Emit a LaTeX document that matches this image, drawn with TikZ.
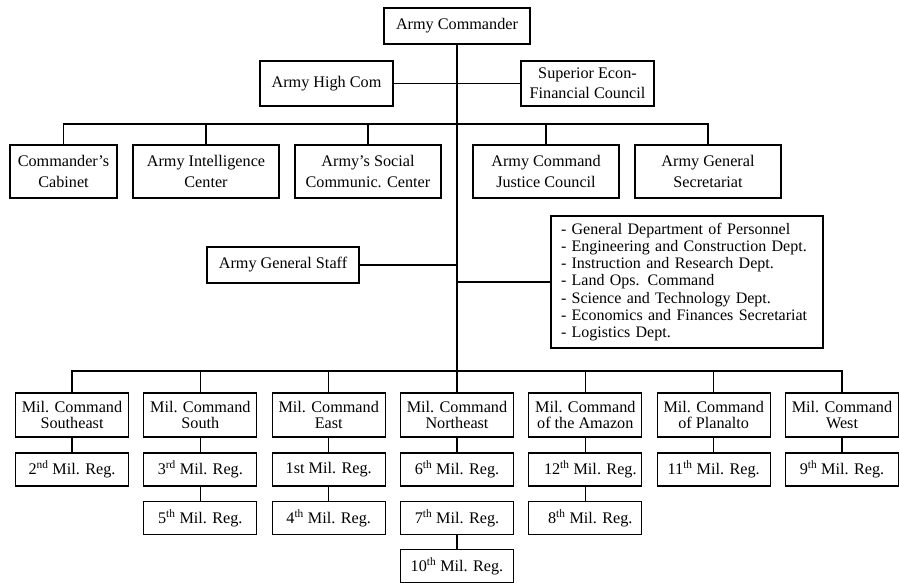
\documentclass[tikz,border=0pt]{standalone}
\usepackage{fontspec}
\setmainfont{Liberation Serif}
\begin{document}
\begin{tikzpicture}[x=1pt,y=-1pt,
  box/.style={draw,line width=1.2pt,align=center,inner sep=0pt},
  toprow/.style={box,minimum width=146pt,minimum height=53pt,font=\fontsize{16.2}{21}\selectfont},
  mid/.style={box,minimum height=45pt,font=\fontsize{16.2}{20}\selectfont},
  cmd/.style={box,minimum width=113pt,minimum height=44pt,font=\fontsize{16.2}{16}\selectfont},
  reg/.style={box,minimum width=113pt,minimum height=33pt,font=\fontsize{16.2}{18}\selectfont},
  link/.style={line width=1.2pt}]
\useasboundingbox (0,0) rectangle (899,582);

% head of the chart
\node[box,minimum width=146pt,minimum height=36pt,font=\fontsize{16.2}{18}\selectfont] (ac) at (457,26) {Army Commander};
\node[mid,minimum width=133pt] (ahc) at (326.5,83.5) {Army High Com};
\node[mid,minimum width=133pt] (sefc) at (587.5,83.5) {Superior Econ-\\Financial Council};

% spine and bar coordinates
\coordinate (spineEnd) at (457,371);
\coordinate (topBar) at (457,124);
\coordinate (botBar) at (457,371);

% advisory bodies
\node[toprow,minimum width=107pt] (cab) at (63.5,171.5) {Commander’s\\Cabinet};
\node[toprow] (intel) at (206,171.5) {Army Intelligence\\Center};
\node[toprow] (social) at (368,171.5) {Army’s Social\\Communic. Center};
\node[toprow] (justice) at (546,171.5) {Army Command\\Justice Council};
\node[toprow] (secr) at (708,171.5) {Army General\\Secretariat};

% general staff and departments
\node[box,minimum width=152pt,minimum height=36pt,font=\fontsize{16.2}{18}\selectfont] (staff) at (283,265) {Army General Staff};
\node[draw,line width=1.2pt,inner xsep=10pt,inner ysep=0pt,text width=252pt,minimum height=132pt,align=left,
      font=\fontsize{16}{17.2}\selectfont] (depts) at (687,282)
  {- General Department of Personnel\\
   - Engineering and Construction Dept.\\
   - Instruction and Research Dept.\\
   - Land Ops. Command\\
   - Science and Technology Dept.\\
   - Economics and Finances Secretariat\\
   - Logistics Dept.};

% military commands
\node[cmd] (se) at (72,415) {Mil. Command\\Southeast};
\node[cmd] (so) at (200.3,415) {Mil. Command\\South};
\node[cmd] (ea) at (328.7,415) {Mil. Command\\East};
\node[cmd] (ne) at (457,415) {Mil. Command\\Northeast};
\node[cmd] (am) at (585.3,415) {Mil. Command\\of the Amazon};
\node[cmd] (pl) at (713.7,415) {Mil. Command\\of Planalto};
\node[cmd] (we) at (842,415) {Mil. Command\\West};

% military regions
\node[reg] (r2) at (72,469.5) {2\textsuperscript{nd} Mil. Reg.};
\node[reg] (r3) at (200.3,469.5) {3\textsuperscript{rd} Mil. Reg.};
\node[reg] (r5) at (200.3,518) {5\textsuperscript{th} Mil. Reg.};
\node[reg] (r1) at (328.7,469.5) {1st Mil. Reg.};
\node[reg] (r4) at (328.7,518) {4\textsuperscript{th} Mil. Reg.};
\node[reg] (r6) at (457,469.5) {6\textsuperscript{th} Mil. Reg.};
\node[reg] (r7) at (457,518) {7\textsuperscript{th} Mil. Reg.};
\node[reg] (r10) at (457,566) {10\textsuperscript{th} Mil. Reg.};
\node[reg] (r12) at (585.3,469.5) {\hspace{10pt}12\textsuperscript{th} Mil. Reg.};
\node[reg] (r8) at (585.3,518) {\hspace{10pt}8\textsuperscript{th} Mil. Reg.};
\node[reg] (r11) at (713.7,469.5) {11\textsuperscript{th} Mil. Reg.};
\node[reg] (r9) at (842,469.5) {9\textsuperscript{th} Mil. Reg.};

% connectors
\draw[link] (ac.south) -- (spineEnd);
\draw[link] (ahc.east) -- (ahc.east -| ac.south);
\draw[link] (sefc.west) -- (sefc.west -| ac.south);
\foreach \n in {cab,intel,social,justice,secr}
  \draw[link] (\n.north) |- (topBar);
\draw[link] (staff.east) -- (staff.east -| ac.south);
\draw[link] (depts.west) -- (depts.west -| ac.south);
\foreach \n in {se,so,ea,ne,am,pl,we}
  \draw[link] (\n.north) |- (botBar);
\draw[link] (se.south) -- (r2.north);
\draw[link] (so.south) -- (r3.north);
\draw[link] (r3.south) -- (r5.north);
\draw[link] (ea.south) -- (r1.north);
\draw[link] (r1.south) -- (r4.north);
\draw[link] (ne.south) -- (r6.north);
\draw[link] (r7.south) -- (r10.north);
\draw[link] (am.south) -- (r12.north);
\draw[link] (r12.south) -- (r8.north);
\draw[link] (pl.south) -- (r11.north);
\draw[link] (we.south) -- (r9.north);
\end{tikzpicture}
\end{document}
